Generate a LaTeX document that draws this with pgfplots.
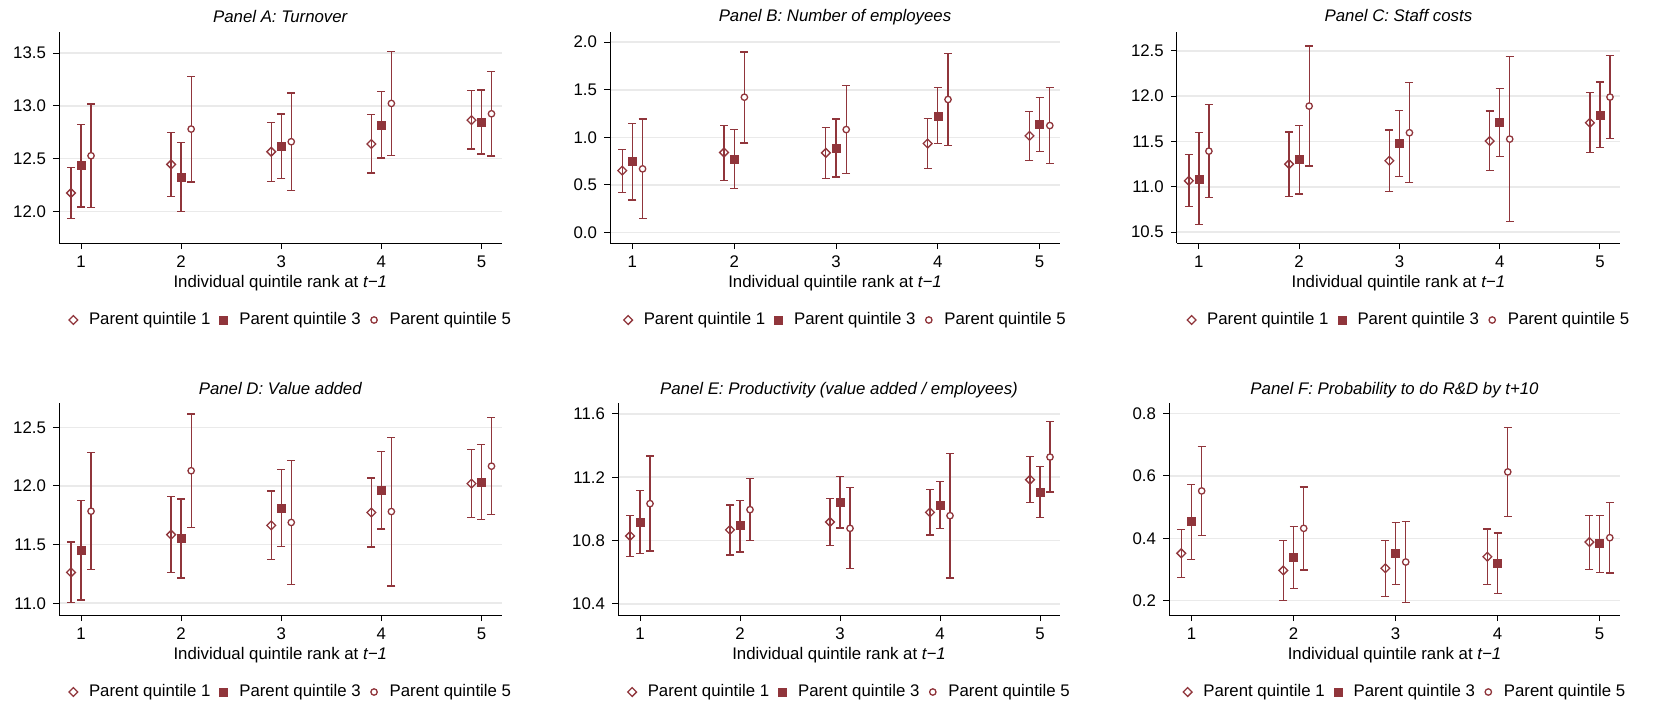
\documentclass[border=0pt]{standalone}
\usepackage{fontspec}
\setmainfont{Liberation Sans}
\usepackage{pgfplots}
\usepackage{pgfplotstable}
\pgfplotsset{compat=1.18}
\definecolor{cran}{RGB}{144,53,59}
\definecolor{gridc}{RGB}{234,234,234}

\pgfplotstableread{
x y1 l1 h1 y3 l3 h3 y5 l5 h5
1 12.174 11.931 12.414 12.436 12.041 12.824 12.527 12.038 13.017
2 12.445 12.139 12.749 12.322 11.997 12.651 12.780 12.278 13.279
3 12.565 12.281 12.843 12.616 12.313 12.922 12.660 12.199 13.121
4 12.638 12.363 12.916 12.815 12.505 13.134 13.023 12.531 13.516
5 12.865 12.591 13.143 12.843 12.543 13.150 12.925 12.524 13.329
}\dataA
\pgfplotstableread{
x y1 l1 h1 y3 l3 h3 y5 l5 h5
1 0.651 0.424 0.876 0.750 0.343 1.149 0.669 0.144 1.194
2 0.841 0.550 1.128 0.771 0.466 1.082 1.422 0.942 1.898
3 0.837 0.567 1.100 0.890 0.585 1.194 1.082 0.620 1.548
4 0.935 0.676 1.201 1.222 0.932 1.524 1.398 0.918 1.881
5 1.016 0.760 1.275 1.138 0.851 1.422 1.124 0.729 1.527
}\dataB
\pgfplotstableread{
x y1 l1 h1 y3 l3 h3 y5 l5 h5
1 11.066 10.783 11.353 11.088 10.585 11.596 11.393 10.879 11.908
2 11.250 10.890 11.603 11.298 10.919 11.676 11.890 11.228 12.551
3 11.287 10.949 11.625 11.474 11.114 11.842 11.596 11.048 12.147
4 11.504 11.176 11.835 11.706 11.335 12.085 11.526 10.621 12.438
5 11.706 11.379 12.037 11.783 11.430 12.154 11.989 11.529 12.449
}\dataC
\pgfplotstableread{
x y1 l1 h1 y3 l3 h3 y5 l5 h5
1 11.263 11.006 11.523 11.449 11.028 11.876 11.785 11.288 12.285
2 11.585 11.263 11.910 11.551 11.215 11.890 12.130 11.647 12.613
3 11.664 11.373 11.958 11.814 11.486 12.138 11.689 11.161 12.215
4 11.774 11.480 12.068 11.966 11.633 12.297 11.782 11.147 12.415
5 12.020 11.732 12.311 12.031 11.712 12.356 12.169 11.754 12.585
}\dataD
\pgfplotstableread{
x y1 l1 h1 y3 l3 h3 y5 l5 h5
1 10.829 10.698 10.959 10.917 10.719 11.117 11.033 10.734 11.333
2 10.867 10.709 11.024 10.894 10.728 11.054 10.995 10.799 11.190
3 10.917 10.770 11.064 11.043 10.879 11.203 10.877 10.623 11.133
4 10.978 10.835 11.121 11.024 10.875 11.173 10.957 10.564 11.348
5 11.184 11.039 11.329 11.106 10.946 11.268 11.327 11.106 11.550
}\dataE
\pgfplotstableread{
x y1 l1 h1 y3 l3 h3 y5 l5 h5
1 0.352 0.274 0.428 0.454 0.332 0.572 0.552 0.408 0.694
2 0.297 0.200 0.394 0.338 0.238 0.439 0.432 0.298 0.565
3 0.304 0.214 0.393 0.352 0.252 0.451 0.324 0.195 0.453
4 0.341 0.252 0.430 0.319 0.224 0.417 0.613 0.469 0.756
5 0.388 0.301 0.473 0.383 0.291 0.474 0.402 0.289 0.514
}\dataF

\newcommand{\fs}{\fontsize{8.4}{10}\selectfont}

\pgfplotsset{
  every axis title shift=0pt,
  panel/.style={
    scale only axis, anchor=north west,
    xmin=0.78, xmax=5.2, xtick={1,2,3,4,5},
    axis x line*=bottom, axis y line*=left,
    axis line style={-, black, line width=0.5pt},
    tick align=outside, major tick length=3pt,
    tick style={black, line width=0.5pt},
    xtick pos=bottom, ytick pos=left,
    ymajorgrids, grid style={gridc, line width=0.8pt},
    tick label style={font=\fs},
    /pgf/number format/assume math mode=true,
    yticklabel style={/pgf/number format/.cd, fixed, fixed zerofill, precision=1},
    title style={font=\fs\itshape, at={(0.5,1)}, anchor=base, yshift=5pt},
    xlabel={Individual quintile rank at \textit{t−1}},
    xlabel style={font=\fs, at={(axis description cs:0.5,0)}, anchor=base, yshift=-22pt},
    legend columns=3,
    legend style={draw=none, fill=none, at={(0.5,0)}, anchor=center,
      yshift=-38.5pt, xshift=4pt, inner sep=0pt, font=\fs,
      nodes={inner sep=0pt},
      /tikz/every odd column/.append style={column sep=3.8pt},
      /tikz/every even column/.append style={column sep=2.65pt}},
    legend image code/.code={\path[draw=none,fill=none] (-4pt,-2pt) rectangle (4pt,2pt);
      \draw[mark repeat=2, mark phase=2, ##1] plot coordinates {(-4pt,0pt) (0pt,0pt) (4pt,0pt)};},
  },
  ebar/.style={error bars/.cd, y dir=both, y explicit,
    error bar style={line width=0.65pt, cran},
    error mark options={rotate=90, mark size=2pt, line width=0.65pt, cran}},
  s1/.style={only marks, color=cran, mark=square, mark size=1.55pt,
    mark options={rotate=45, fill=white, draw=cran, line width=0.65pt}, ebar},
  s3/.style={only marks, color=cran, mark=square*, mark size=2pt,
    mark options={fill=cran, draw=cran, line width=0.3pt}, ebar},
  s5/.style={only marks, color=cran, mark=*, mark size=1.6pt,
    mark options={fill=white, draw=cran, line width=0.65pt}, ebar},
}

\newcommand{\panelplots}[1]{%
  \addplot[s1] table[x expr=\thisrow{x}-0.1, y=y1,
    y error plus expr=\thisrow{h1}-\thisrow{y1},
    y error minus expr=\thisrow{y1}-\thisrow{l1}] {#1};
  \addplot[s3] table[x=x, y=y3,
    y error plus expr=\thisrow{h3}-\thisrow{y3},
    y error minus expr=\thisrow{y3}-\thisrow{l3}] {#1};
  \addplot[s5] table[x expr=\thisrow{x}+0.1, y=y5,
    y error plus expr=\thisrow{h5}-\thisrow{y5},
    y error minus expr=\thisrow{y5}-\thisrow{l5}] {#1};
  \legend{Parent quintile 1, Parent quintile 3, Parent quintile 5}
}

\begin{document}
\begin{tikzpicture}
\useasboundingbox (0,0) rectangle (834.5pt,-351.5pt);

\begin{axis}[panel, at={(29.5pt,-16pt)}, width=221.25pt, height=105.5pt,
  ymin=11.70, ymax=13.70, ytick={12,12.5,13,13.5},
  title={Panel A: Turnover}]
\panelplots{\dataA}
\end{axis}

\begin{axis}[panel, at={(305pt,-15.85pt)}, width=225pt, height=105.65pt,
  ymin=-0.11, ymax=2.11, ytick={0,0.5,1,1.5,2},
  title={Panel B: Number of employees}]
\panelplots{\dataB}
\end{axis}

\begin{axis}[panel, at={(588.4pt,-15.85pt)}, width=221.6pt, height=105.65pt,
  ymin=10.38, ymax=12.71, ytick={10.5,11,11.5,12,12.5},
  title={Panel C: Staff costs}]
\panelplots{\dataC}
\end{axis}

\begin{axis}[panel, at={(29.5pt,-201.35pt)}, width=221.25pt, height=106.15pt,
  ymin=10.90, ymax=12.71, ytick={11,11.5,12,12.5},
  title style={yshift=-0.8pt},
  title={Panel D: Value added}]
\panelplots{\dataD}
\end{axis}

\begin{axis}[panel, at={(309pt,-201.35pt)}, width=221pt, height=106.15pt,
  ymin=10.33, ymax=11.67, ytick={10.4,10.8,11.2,11.6},
  title style={yshift=-0.8pt},
  title={Panel E: Productivity (value added / employees)}]
\panelplots{\dataE}
\end{axis}

\begin{axis}[panel, at={(584.5pt,-201.35pt)}, width=225.5pt, height=106.15pt,
  ymin=0.154, ymax=0.835, ytick={0.2,0.4,0.6,0.8},
  title style={yshift=-0.8pt},
  title={Panel F: Probability to do R\&D by t+10}]
\panelplots{\dataF}
\end{axis}
\end{tikzpicture}
\end{document}
